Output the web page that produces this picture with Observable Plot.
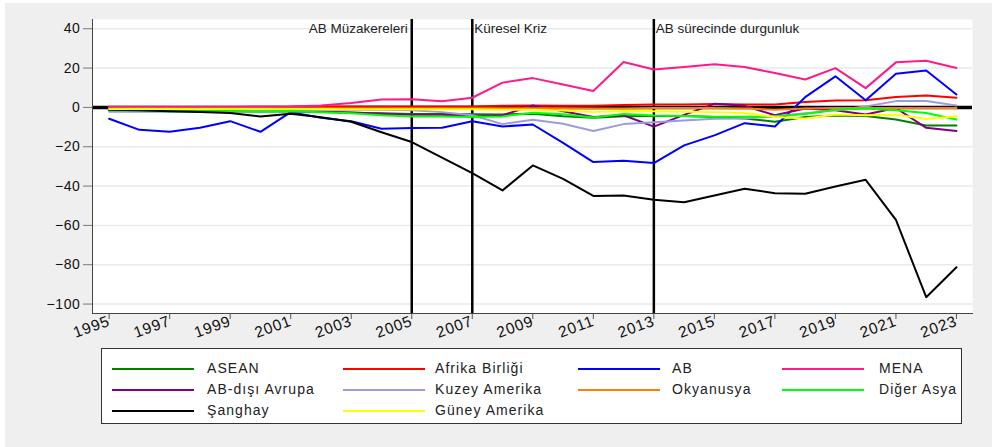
<!DOCTYPE html>
<html>
<head>
<meta charset="utf-8">
<script src="https://cdn.jsdelivr.net/npm/d3@7"></script>
<script src="https://cdn.jsdelivr.net/npm/@observablehq/plot@0.6"></script>
<style>
  html, body { margin: 0; padding: 0; background: #ffffff; width: 992px; height: 447px; overflow: hidden; }
  body { position: relative; font-family: "Liberation Sans", Arial, sans-serif; }
  #bg { position: absolute; left: 5px; top: 3px; width: 987px; height: 444px; background: #efefef; }
  #chart { position: absolute; left: 0; top: 0; }
  #legend { position: absolute; left: 101px; top: 348px; width: 861px; height: 76px; background: #fff; border: 1px solid #333; box-sizing: border-box; }
  .item { position: absolute; height: 14px; font-size: 14px; color: #222; }
  .item .sw { position: absolute; top: 7px; height: 2px; }
  .item .lb { position: absolute; top: -1px; white-space: nowrap; letter-spacing: 1.05px; }
</style>
</head>
<body>
<div id="bg"></div>
<div id="chart"></div>
<div id="legend"></div>
<script>
const years = [1995,1996,1997,1998,1999,2000,2001,2002,2003,2004,2005,2006,2007,2008,2009,2010,2011,2012,2013,2014,2015,2016,2017,2018,2019,2020,2021,2022,2023];

const seriesNames = ["ASEAN","Afrika Birliği","AB","MENA","AB-dışı Avrupa","Kuzey Amerika","Okyanusya","Diğer Asya","Şanghay","Güney Amerika"];
const seriesColors = ["#008000","#ff0000","#0000ff","#ff1a8c","#800080","#9b9be0","#ff8000","#00ff00","#000000","#ffff00"];

const asean      = [-1.5,-1.6,-1.8,-1.8,-2.0,-2.0,-2.0,-2.3,-2.7,-3.0,-3.3,-3.3,-3.5,-3.6,-3.2,-4.5,-5.3,-4.5,-4.4,-4.4,-4.9,-5.6,-7.3,-4.9,-4.1,-4.4,-6.2,-9.2,-9.2];
const afrika     = [0.2,0.2,0.2,0.2,0.2,0.3,0.3,0.4,0.5,0.5,0.5,0.4,0.4,0.8,1.0,0.8,0.8,1.2,1.5,1.5,1.7,1.5,1.5,2.7,3.5,3.6,5.3,6.1,4.9];
const ab         = [-5.8,-11.4,-12.4,-10.3,-7.0,-12.4,-2.4,-5.3,-7.0,-10.9,-10.5,-10.3,-7.0,-9.7,-8.7,-18.0,-27.8,-27.1,-28.3,-19.3,-14.2,-8.0,-9.7,5.2,15.8,3.6,17.1,18.8,6.6];
const mena       = [0.3,0.3,0.3,0.3,0.3,0.3,0.4,1.0,2.2,4.0,4.2,3.1,4.9,12.6,14.9,11.6,8.3,23.1,19.3,20.5,21.9,20.5,17.5,14.2,20.0,9.8,22.9,23.7,20.0];
const abDisi     = [-1.5,-1.5,-1.8,-1.8,-2.0,-2.0,-2.0,-2.2,-2.6,-3.2,-3.7,-3.7,-4.6,-4.0,1.0,-2.0,-4.9,-4.0,-9.8,-3.8,1.8,0.8,-4.0,-0.6,-1.5,-3.6,-0.3,-10.4,-12.0];
const kuzey      = [-2.2,-2.2,-2.2,-2.2,-2.0,-1.8,-1.5,-1.2,-1.2,-1.2,-1.5,-2.4,-4.0,-8.5,-6.3,-8.3,-12.0,-8.5,-7.5,-6.6,-5.8,-5.6,-4.5,-3.0,-1.5,0.5,3.2,3.2,1.0];
const okyanusya  = [-0.6,-0.6,-0.6,-0.6,-0.6,-0.6,-0.5,-0.4,-0.4,-0.4,-0.4,-0.4,-0.4,-0.4,-0.4,-0.4,-0.5,-0.5,-0.3,-0.3,-0.3,-0.5,-1.2,-0.5,-0.3,-0.3,-0.3,-0.3,-0.3];
const digerAsya  = [-1.6,-1.8,-2.0,-2.0,-2.0,-2.2,-2.0,-2.5,-3.0,-4.0,-4.6,-4.6,-4.9,-4.6,-2.7,-3.5,-5.1,-3.3,-4.1,-4.4,-4.8,-4.8,-4.6,-3.4,-1.2,-0.5,-1.5,-2.8,-6.2];
const sanghay    = [-1.2,-1.5,-1.9,-2.3,-2.9,-4.6,-3.2,-5.0,-7.3,-12.6,-17.6,-25.5,-33.4,-42.2,-29.5,-36.3,-45.0,-44.8,-47.0,-48.2,-44.8,-41.4,-43.6,-43.9,-40.2,-36.8,-57.2,-96.5,-81.3];
const guney      = [-0.8,-0.8,-0.8,-0.8,-0.8,-0.8,-0.8,-0.8,-0.9,-1.0,-1.0,-1.0,-1.0,-1.2,-1.2,-1.6,-2.4,-1.8,-2.0,-2.2,-2.4,-2.9,-4.9,-5.6,-3.6,-4.0,-3.7,-5.9,-4.5];

const seriesValues = [asean, afrika, ab, mena, abDisi, kuzey, okyanusya, digerAsya, sanghay, guney];

const yTicks = [-100,-80,-60,-40,-20,0,20,40];
const xTicks = [1995,1997,1999,2001,2003,2005,2007,2009,2011,2013,2015,2017,2019,2021,2023];
const eventYears = [2005, 2007, 2013];
const eventLabels = ["AB Müzakereleri", "Küresel Kriz", "AB sürecinde durgunluk"];

const table = seriesNames.flatMap((name, i) => years.map((yr, j) => ({series: name, year: yr, value: seriesValues[i][j]})));

const chart = Plot.plot({
  width: 992,
  height: 345,
  marginLeft: 92,
  marginRight: 20,
  marginTop: 19,
  marginBottom: 32,
  style: {background: "transparent", fontFamily: "Liberation Sans, Arial, sans-serif", fontSize: "14px", color: "#111"},
  x: {domain: [1994.45, 2023.53]},
  y: {domain: [-104.8, 44.7]},
  color: {domain: seriesNames, range: seriesColors},
  marks: [
    Plot.frame({fill: "white", stroke: null}),
    Plot.gridY(yTicks, {stroke: "#e4eced", strokeOpacity: 1, strokeWidth: 1.5}),
    Plot.ruleY([0], {stroke: "black", strokeWidth: 3.5}),
    Plot.ruleX(eventYears, {stroke: "black", strokeWidth: 2.5}),
    Plot.line(table, {x: "year", y: "value", z: "series", stroke: "series", strokeWidth: 2}),
    Plot.text([eventLabels[0]], {x: [eventYears[0]], y: [40], text: d => d, textAnchor: "end", dx: -4, fontSize: 13.5, fill: "#222", ariaLabel: "event-label"}),
    Plot.text(eventLabels.slice(1), {x: eventYears.slice(1), y: [40, 40], text: d => d, textAnchor: "start", dx: 2, fontSize: 13.5, fill: "#222", ariaLabel: "event-label"}),
    Plot.axisY(yTicks, {tickSize: 9, tickPadding: 3, fontSize: 14, stroke: "#777", fill: "#111", label: null}),
    Plot.axisX(xTicks, {tickSize: 6, tickPadding: 1, tickRotate: -20, fontSize: 15.5, stroke: "#555", fill: "#111", tickFormat: d => String(d), label: null}),
    Plot.frame({anchor: "left", stroke: "#444"}),
    Plot.frame({anchor: "bottom", stroke: "#444"})
  ]
});
document.getElementById("chart").appendChild(chart);

// text spacing tweaks to match the reference's wide glyph rendering
d3.select(chart).selectAll("g[aria-label='event-label'] text").attr("letter-spacing", "1.4px");
d3.select(chart).selectAll("g[aria-label='x-axis tick label'] text").attr("letter-spacing", "0.8px");
d3.select(chart).selectAll("g[aria-label='y-axis tick label'] text").attr("letter-spacing", "0.6px");

// legend (HTML, below the SVG)
const legend = document.getElementById("legend");
const colLineX = [10, 241, 476, 680];
const colTextX = [105, 333, 570, 777];
const rowY = [12, 33, 54];
seriesNames.forEach((name, i) => {
  const r = Math.floor(i / 4), c = i % 4;
  const it = document.createElement("div");
  it.className = "item";
  it.style.left = "0px";
  it.style.top = rowY[r] + "px";
  const sw = document.createElement("div");
  sw.className = "sw";
  sw.style.left = colLineX[c] + "px";
  sw.style.width = "82px";
  sw.style.background = seriesColors[i];
  const lb = document.createElement("div");
  lb.className = "lb";
  lb.style.left = colTextX[c] + "px";
  lb.textContent = name;
  it.appendChild(sw);
  it.appendChild(lb);
  legend.appendChild(it);
});
</script>
</body>
</html>
